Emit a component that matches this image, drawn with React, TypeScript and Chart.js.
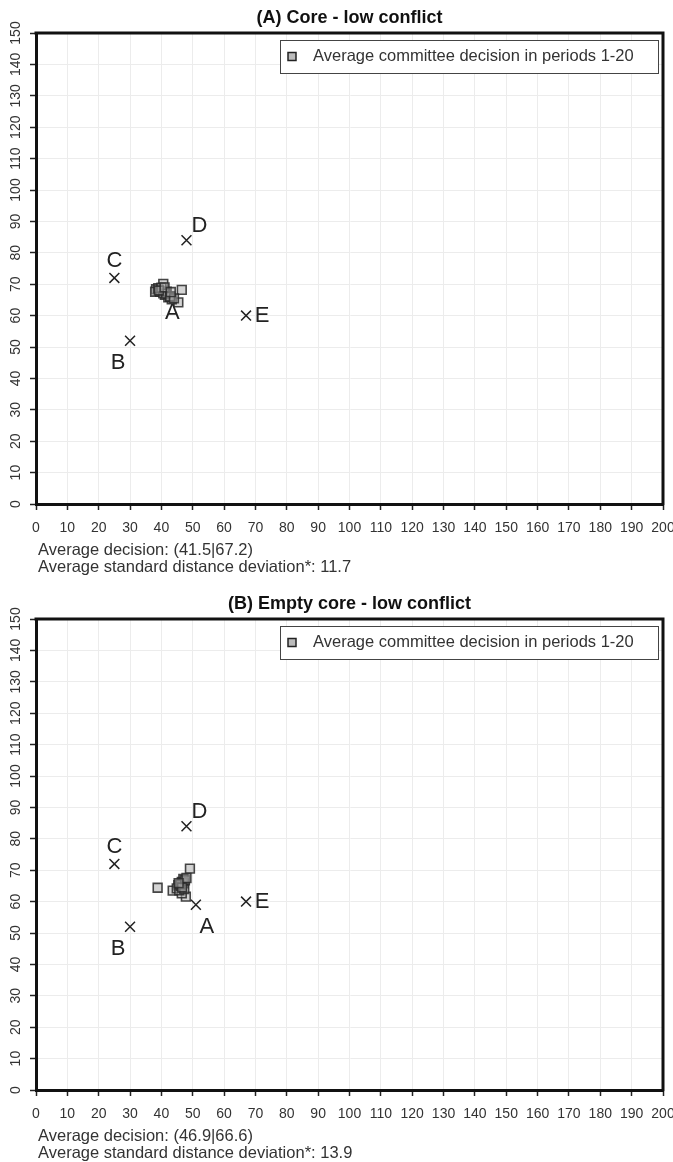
import React, { useEffect, useRef } from 'react';
import { Chart, registerables } from 'chart.js';

Chart.register(...registerables);

const FONT = "'Liberation Sans', Arial, Helvetica, sans-serif";

// ---- data ----
const players = ['A', 'B', 'C', 'D', 'E'];

const idealXA = [40, 30, 25, 48, 67];
const idealYA = [68, 52, 72, 84, 60];
const idealXB = [51, 30, 25, 48, 67];
const idealYB = [59, 52, 72, 84, 60];

const decisionXA = [40.6, 46.5, 45.4, 43.3, 38.3, 38.0, 39.6, 41.1, 42.2, 40.6, 39.0, 41.7, 42.7, 40.0, 41.5, 42.8, 39.2, 44.0, 41.0, 43.0];
const decisionYA = [70.1, 68.2, 64.2, 65.2, 68.4, 67.6, 67.6, 66.6, 65.8, 67.1, 68.7, 67.6, 66.2, 68.9, 67.0, 66.0, 68.0, 65.5, 69.0, 67.5];

const decisionXB = [49.1, 38.8, 43.6, 47.8, 46.5, 47.0, 45.9, 45.4, 46.5, 44.9, 47.1, 45.7, 46.2, 46.8, 47.3, 46.0, 47.5, 48.0, 46.6, 45.5];
const decisionYB = [70.5, 64.4, 63.5, 61.6, 62.6, 67.2, 64.7, 65.2, 66.3, 64.2, 65.8, 63.6, 65.0, 66.0, 64.0, 65.5, 66.8, 67.5, 64.5, 65.9];

const xMin = 0, xMax = 200, xStep = 10;
const yMin = 0, yMax = 150, yStep = 10;

const legendText = 'Average committee decision in periods 1-20';
const titleA = '(A) Core - low conflict';
const titleB = '(B) Empty core - low conflict';
const footerA = ['Average decision: (41.5|67.2)', 'Average standard distance deviation*: 11.7'];
const footerB = ['Average decision: (46.9|66.6)', 'Average standard distance deviation*: 13.9'];

// label placement (style): offsets in px relative to the cross
const labelOffset: Record<string, [number, number]> = {
  A: [11, 22],
  B: [-12, 22],
  C: [0, -17],
  D: [13, -14],
  E: [16, 0],
};

const W = 673;

function makePoints(xs: number[], ys: number[]) {
  return xs.map((x, i) => ({ x, y: ys[i] }));
}

function Panel(props: {
  title: string;
  footer: string[];
  ix: number[];
  iy: number[];
  dx: number[];
  dy: number[];
  height: number;
  top: number;
}) {
  const ref = useRef<HTMLCanvasElement | null>(null);
  useEffect(() => {
    const canvas = ref.current;
    if (!canvas) return;
    const H = props.height;
    const plotBottom = 504;

    const panelPlugin = {
      id: 'panelDecor',
      afterDraw(chart: any) {
        const ctx = chart.ctx as CanvasRenderingContext2D;
        const ca = chart.chartArea;
        const ys = chart.scales.y;
        const xs = chart.scales.x;
        ctx.save();
        // top and right box lines
        ctx.strokeStyle = '#111';
        ctx.lineWidth = 3;
        ctx.beginPath();
        ctx.moveTo(ca.left - 1.5, ca.top);
        ctx.lineTo(ca.right, ca.top);
        ctx.lineTo(ca.right, ca.bottom + 1.5);
        ctx.stroke();

        // y tick labels rotated
        ctx.fillStyle = '#333';
        ctx.font = `14px ${FONT}`;
        ctx.textAlign = 'center';
        ctx.textBaseline = 'middle';
        for (const t of ys.ticks) {
          const py = ys.getPixelForValue(t.value);
          ctx.save();
          ctx.translate(16, py);
          ctx.rotate(-Math.PI / 2);
          ctx.fillText(String(t.value), 0, 0);
          ctx.restore();
        }

        // title
        ctx.fillStyle = '#111';
        ctx.font = `bold 18px ${FONT}`;
        ctx.textAlign = 'center';
        ctx.textBaseline = 'middle';
        ctx.fillText(props.title, (ca.left + ca.right) / 2, 18);

        // legend
        const lx0 = 280, ly0 = ca.top + 7, lx1 = ca.right - 5, ly1 = ca.top + 40;
        ctx.fillStyle = '#fff';
        ctx.fillRect(lx0, ly0, lx1 - lx0, ly1 - ly0);
        ctx.strokeStyle = '#444';
        ctx.lineWidth = 1;
        ctx.strokeRect(lx0 + 0.5, ly0 + 0.5, lx1 - lx0, ly1 - ly0);
        const my = (ly0 + ly1) / 2;
        ctx.fillStyle = '#bbb';
        ctx.fillRect(288, my - 4, 8, 8);
        ctx.strokeStyle = '#222';
        ctx.lineWidth = 1.5;
        ctx.strokeRect(288, my - 4, 8, 8);
        ctx.fillStyle = '#333';
        ctx.font = `16.5px ${FONT}`;
        ctx.textAlign = 'left';
        ctx.textBaseline = 'middle';
        ctx.fillText(legendText, 313, my);

        // player labels
        ctx.fillStyle = '#222';
        ctx.font = `22px ${FONT}`;
        ctx.textAlign = 'center';
        ctx.textBaseline = 'middle';
        players.forEach((p, i) => {
          const px = xs.getPixelForValue(props.ix[i]);
          const py = ys.getPixelForValue(props.iy[i]);
          const off = labelOffset[p];
          ctx.fillText(p, px + off[0], py + off[1]);
        });

        // footer
        ctx.fillStyle = '#333';
        ctx.font = `16.5px ${FONT}`;
        ctx.textAlign = 'left';
        ctx.textBaseline = 'middle';
        props.footer.forEach((line, i) => {
          ctx.fillText(line, 38, 550 + i * 17);
        });
        ctx.restore();
      },
    };

    const chart = new Chart(canvas, {
      type: 'scatter',
      data: {
        datasets: [
          {
            label: legendText,
            data: makePoints(props.dx, props.dy),
            pointStyle: 'rect',
            pointRadius: 6.2,
            pointBackgroundColor: 'rgba(170,170,170,0.5)',
            pointBorderColor: 'rgba(40,40,40,0.85)',
            pointBorderWidth: 1.6,
          },
          {
            label: 'Ideal points',
            data: makePoints(props.ix, props.iy),
            pointStyle: 'crossRot',
            pointRadius: 7,
            pointBorderColor: '#222',
            pointBorderWidth: 1.5,
          },
        ],
      },
      options: {
        animation: false,
        responsive: false,
        maintainAspectRatio: false,
        layout: { padding: { top: 33, right: 10, left: 0, bottom: 0 } },
        plugins: {
          legend: { display: false },
          title: { display: false },
          tooltip: { enabled: false },
        },
        scales: {
          x: {
            type: 'linear',
            min: xMin,
            max: xMax,
            ticks: {
              stepSize: xStep,
              color: '#333',
              font: { family: FONT, size: 14 },
              padding: 10,
              maxRotation: 0,
              autoSkip: false,
            },
            grid: {
              color: '#ececec',
              lineWidth: 1,
              tickColor: '#222',
              tickLength: 6,
              tickWidth: 1.5,
            },
            border: { display: true, color: '#111', width: 3 },
            afterFit: (s: any) => {
              s.height = H - plotBottom;
              s.paddingLeft = 0;
              s.paddingRight = 0;
            },
          },
          y: {
            type: 'linear',
            min: yMin,
            max: yMax,
            ticks: { stepSize: yStep, display: false },
            grid: {
              color: '#ececec',
              lineWidth: 1,
              tickColor: '#222',
              tickLength: 6,
              tickWidth: 1.5,
            },
            border: { display: true, color: '#111', width: 3 },
            afterFit: (s: any) => {
              s.width = 36;
              s.paddingTop = 0;
              s.paddingBottom = 0;
            },
          },
        },
      },
      plugins: [panelPlugin],
    } as any);
    return () => chart.destroy();
  }, []);
  return (
    <canvas
      ref={ref}
      width={W}
      height={props.height}
      style={{ position: 'absolute', left: 0, top: props.top, width: W, height: props.height }}
    />
  );
}

export default function App() {
  return (
    <div style={{ position: 'absolute', left: 0, top: 0, width: W, height: 1162, background: '#fff', overflow: 'hidden' }}>
      <Panel title={titleA} footer={footerA} ix={idealXA} iy={idealYA} dx={decisionXA} dy={decisionYA} height={586} top={0} />
      <Panel title={titleB} footer={footerB} ix={idealXB} iy={idealYB} dx={decisionXB} dy={decisionYB} height={576} top={586} />
    </div>
  );
}
